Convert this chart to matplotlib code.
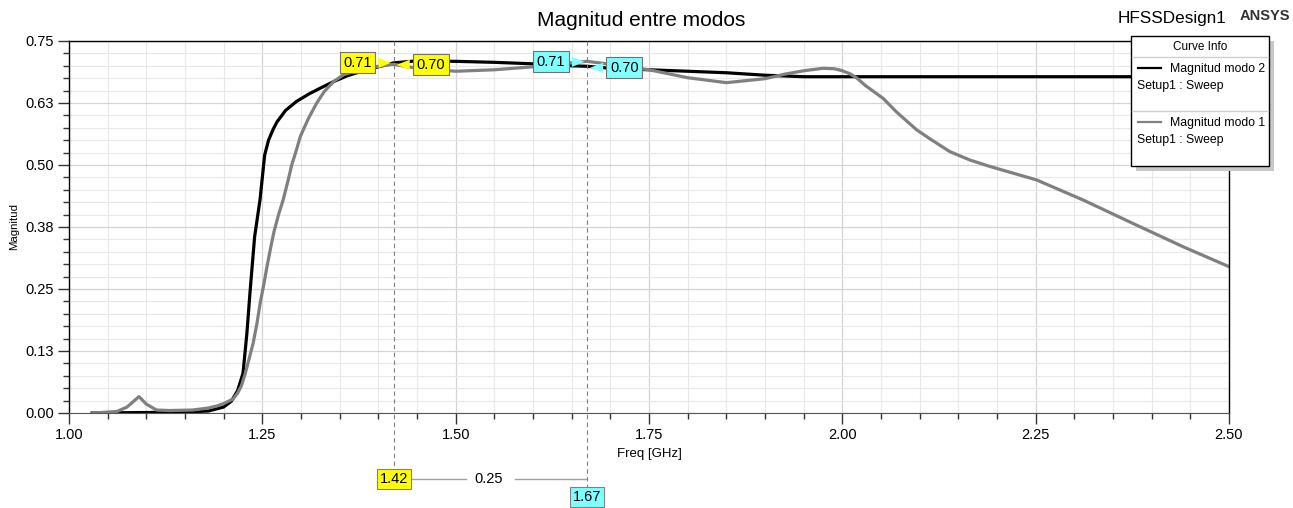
import matplotlib
matplotlib.use("Agg")
import matplotlib.pyplot as plt
import numpy as np
from matplotlib.patches import Rectangle
from matplotlib.lines import Line2D

plt.rcParams['font.family'] = ['Liberation Sans', 'DejaVu Sans']

# --- data ---
freq_m2 = [1.03, 1.10, 1.15, 1.18, 1.20, 1.21, 1.218, 1.225, 1.230, 1.234, 1.240, 1.247,
           1.253, 1.258, 1.264, 1.269, 1.280, 1.294, 1.310, 1.325, 1.342, 1.360, 1.385, 1.42,
           1.45, 1.50, 1.55, 1.60, 1.65, 1.67, 1.70, 1.75, 1.80, 1.85, 1.90, 1.95, 2.00, 2.50]
mag_m2 = [0.000, 0.001, 0.002, 0.004, 0.012, 0.024, 0.045, 0.080, 0.160, 0.242, 0.355, 0.430,
          0.520, 0.550, 0.572, 0.587, 0.610, 0.628, 0.643, 0.655, 0.668, 0.680, 0.692, 0.706,
          0.710, 0.709, 0.707, 0.704, 0.700, 0.699, 0.695, 0.692, 0.689, 0.686, 0.681, 0.678, 0.678, 0.678]

freq_m1 = [1.031, 1.062, 1.075, 1.0905, 1.10, 1.113, 1.13, 1.16, 1.18, 1.191, 1.20, 1.212,
           1.218, 1.223, 1.228, 1.233, 1.238, 1.243, 1.247, 1.252, 1.256, 1.261, 1.265, 1.271,
           1.277, 1.283, 1.288, 1.294, 1.299, 1.305, 1.31, 1.32, 1.33, 1.342, 1.355, 1.372,
           1.39, 1.42, 1.45, 1.50, 1.55, 1.60, 1.64, 1.67, 1.70, 1.75, 1.80, 1.85, 1.90,
           1.925, 1.95, 1.975, 1.99, 2.00, 2.01, 2.019, 2.03, 2.053, 2.07, 2.096, 2.115, 2.139,
           2.165, 2.191, 2.251, 2.312, 2.376, 2.441, 2.50]
mag_m1 = [0.000, 0.003, 0.012, 0.033, 0.018, 0.006, 0.005, 0.006, 0.010, 0.014, 0.019, 0.028,
          0.040, 0.055, 0.080, 0.110, 0.140, 0.180, 0.220, 0.260, 0.295, 0.335, 0.365, 0.400,
          0.430, 0.467, 0.500, 0.530, 0.557, 0.578, 0.595, 0.624, 0.648, 0.668, 0.682, 0.690,
          0.697, 0.703, 0.695, 0.689, 0.692, 0.698, 0.705, 0.709, 0.703, 0.692, 0.676, 0.666, 0.674,
          0.683, 0.690, 0.695, 0.694, 0.690, 0.684, 0.675, 0.660, 0.634, 0.607, 0.571, 0.551, 0.527,
          0.510, 0.497, 0.470, 0.429, 0.382, 0.335, 0.295]

marker_x = [1.42, 1.67]
marker_vals = [["0.71", "0.70"], ["0.71", "0.70"]]
marker_colors = ["#ffff00", "#80ffff"]

yticks = [0.0, 0.125, 0.25, 0.375, 0.5, 0.625, 0.75]
ytick_labels = ['0.00', '0.13', '0.25', '0.38', '0.50', '0.63', '0.75']
xticks = [1.00, 1.25, 1.50, 1.75, 2.00, 2.25, 2.50]

# --- figure ---
fig = plt.figure(figsize=(12.93, 5.08), dpi=100)
ax = fig.add_axes([69/1293, 1-413/508, (1229-69)/1293, (413-41)/508])

ax.set_xlim(1.0, 2.5)
ax.set_ylim(0.0, 0.75)
ax.set_xticks(xticks)
ax.set_xticklabels(['%.2f' % v for v in xticks])
ax.set_yticks(yticks)
ax.set_yticklabels(ytick_labels)
ax.set_xticks(np.arange(1.0, 2.501, 0.05), minor=True)
ax.set_yticks(np.arange(0.0, 0.751, 0.025), minor=True)
ax.grid(which='major', color='#d4d4d4', lw=0.9)
ax.grid(which='minor', color='#e8e8e8', lw=0.8)
ax.set_axisbelow(True)
ax.tick_params(which='major', direction='out', length=8, width=1, labelsize=10.5, pad=3, color='#333333')
ax.tick_params(which='minor', direction='out', length=4, width=1, color='#333333')
for s in ['top', 'right', 'left']:
    ax.spines[s].set_color('black')
    ax.spines[s].set_linewidth(1)
ax.spines['bottom'].set_color('#555555')

ax.plot(freq_m2, mag_m2, color='black', lw=2.3, solid_joinstyle='round')
ax.plot(freq_m1, mag_m1, color='#808080', lw=2.3, solid_joinstyle='round')

ax.set_xlabel('Freq [GHz]', fontsize=9.5, labelpad=4)
ax.set_ylabel('Magnitud', fontsize=8.2)
ax.yaxis.set_label_coords(-0.043, 0.5)

# --- marker lines and labels ---
line_bottoms = [-0.15, -0.20]
for mx, lb in zip(marker_x, line_bottoms):
    ax.plot([mx, mx], [1.0, lb], transform=ax.get_xaxis_transform(), color='#808080',
            lw=0.8, ls=(0, (4, 3)), clip_on=False, zorder=3)

tips = [[0.706, 0.702], [0.708, 0.696]]
for i, mx in enumerate(marker_x):
    for j, txt in enumerate(marker_vals[i]):
        dx = -0.047 if j == 0 else 0.048
        ty = tips[i][j]
        ax.annotate(txt, xy=(mx, ty), xytext=(mx + dx, ty), fontsize=10.5,
                    ha='center', va='center', zorder=6,
                    bbox=dict(boxstyle='square,pad=0.25', fc=marker_colors[i], ec='#707070', lw=0.8),
                    arrowprops=dict(arrowstyle='wedge,tail_width=0.7,shrink_factor=0.5',
                                    fc=marker_colors[i], ec='none'))

# bottom delta annotation
xt = ax.get_xaxis_transform()
ax.text(marker_x[0], -0.177, '%.2f' % marker_x[0], transform=xt, ha='center', va='center', fontsize=10.5,
        bbox=dict(boxstyle='square,pad=0.2', fc=marker_colors[0], ec='#808080', lw=0.8), clip_on=False)
ax.text(marker_x[1], -0.226, '%.2f' % marker_x[1], transform=xt, ha='center', va='center', fontsize=10.5,
        bbox=dict(boxstyle='square,pad=0.2', fc=marker_colors[1], ec='#808080', lw=0.8), clip_on=False)
mid = (marker_x[0] + marker_x[1]) / 2
ax.plot([marker_x[0] + 0.02, mid - 0.032], [-0.177, -0.177], transform=xt, color='#a0a0a0', lw=1, clip_on=False)
ax.plot([mid + 0.032, marker_x[1]], [-0.177, -0.177], transform=xt, color='#a0a0a0', lw=1, clip_on=False)
ax.text(mid - 0.003, -0.177, '%.2f' % (marker_x[1] - marker_x[0]), transform=xt, ha='center', va='center',
        fontsize=10.5, clip_on=False)

# --- titles ---
fig.text(641/1293, 1-20/508, 'Magnitud entre modos', ha='center', va='center', fontsize=15)
fig.text(1172/1293, 1-19/508, 'HFSSDesign1', ha='center', va='center', fontsize=12.3)
fig.text(1265/1293, 1-16/508, 'ANSYS', ha='center', va='center', fontsize=10.5, fontweight='bold', color='#333333')

# --- "Curve Info" box ---
W, H = 1293, 508
def fx(px): return px / W
def fy(py): return 1 - py / H

fig.patches.append(Rectangle((fx(1136), fy(171)), fx(1274) - fx(1136), fy(41) - fy(171),
                             transform=fig.transFigure, fc='#c8c8c8', ec='none', zorder=8))
fig.patches.append(Rectangle((fx(1131), fy(166)), fx(1269) - fx(1131), fy(36) - fy(166),
                             transform=fig.transFigure, fc='white', ec='black', lw=1, zorder=9))
fig.text(fx(1200), fy(47), 'Curve Info', ha='center', va='center', fontsize=8.5, zorder=10)
for ysep in [57, 111]:
    fig.add_artist(Line2D([fx(1132), fx(1268)], [fy(ysep), fy(ysep)], color='#d0d0d0', lw=1,
                          transform=fig.transFigure, zorder=10))
entries = [('Magnitud modo 2', 'black', 68), ('Magnitud modo 1', '#808080', 122)]
for name, col, ypx in entries:
    fig.add_artist(Line2D([fx(1138), fx(1161)], [fy(ypx), fy(ypx)], color=col, lw=1.6,
                          transform=fig.transFigure, zorder=10))
    fig.text(fx(1170), fy(ypx + 1), name, ha='left', va='center', fontsize=8.8, zorder=10)
    fig.text(fx(1137), fy(ypx + 18), 'Setup1 : Sweep', ha='left', va='center', fontsize=8.8, zorder=10)

fig.savefig('out.png', dpi=100)
